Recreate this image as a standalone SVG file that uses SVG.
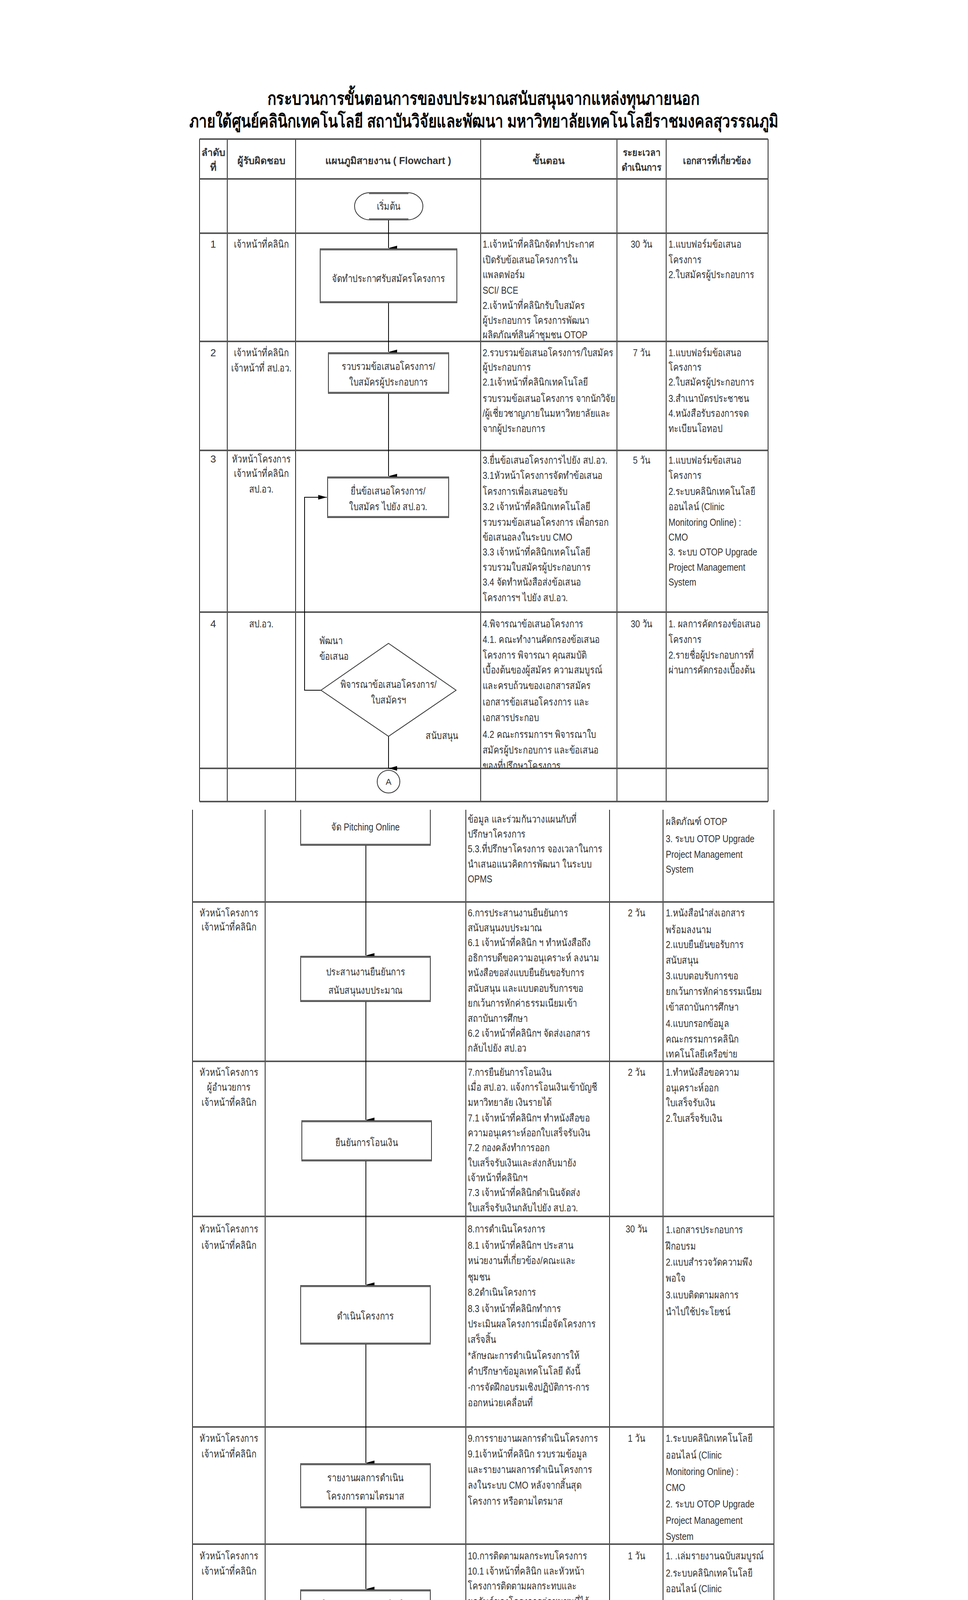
<svg xmlns="http://www.w3.org/2000/svg" width="2479" height="4736" viewBox="0 0 2479 4736">
<style>
.t{font-family:"Liberation Sans","DejaVu Sans",sans-serif;font-size:26px;fill:#333}
.c{text-anchor:middle}
.hd{font-weight:bold;font-size:25px}
.title{font-family:"Liberation Sans","DejaVu Sans",sans-serif;font-size:46px;font-weight:bold;fill:#000;text-anchor:middle}
.v{stroke:#222;stroke-width:2;fill:none}
.hz{stroke:#555;stroke-width:4;fill:none}
.box{fill:#fff;stroke:#333;stroke-width:2}
.be{stroke:#666;stroke-width:4;fill:none}
.cn{stroke:#000;stroke-width:2;fill:none}
</style>
<defs>
<marker id="ah" viewBox="0 0 12 22" refX="6" refY="22" markerWidth="12" markerHeight="22" orient="auto-start-reverse" markerUnits="userSpaceOnUse">
<path d="M0,0 L6,22 L12,0 z" fill="#000"/>
</marker>
<marker id="ar" viewBox="0 0 22 12" refX="22" refY="6" markerWidth="22" markerHeight="12" orient="auto" markerUnits="userSpaceOnUse">
<path d="M0,0 L22,6 L0,12 z" fill="#000"/>
</marker>
<clipPath id="clip4"><rect x="0" y="1567" width="2479" height="399"/></clipPath>
</defs>
<rect width="2479" height="4736" fill="#fff"/>

<g id="title">
<text class="title" x="1238" y="268" textLength="1107" lengthAdjust="spacingAndGlyphs">กระบวนการขั้นตอนการของบประมาณสนับสนุนจากแหล่งทุนภายนอก</text>
<text class="title" x="1239" y="326" textLength="1508" lengthAdjust="spacingAndGlyphs">ภายใต้ศูนย์คลินิกเทคโนโลยี สถาบันวิจัยและพัฒนา มหาวิทยาลัยเทคโนโลยีราชมงคลสุวรรณภูมิ</text>
</g>

<g id="table-part1">
<path class="v" d="M511,356V2052 M582,356V2052 M757,356V2052 M1231,356V2052 M1580,356V2052 M1706,356V2052 M1967,356V2052"/>
<path class="hz" d="M511,356H1967 M511,458H1967 M511,597H1967 M511,874H1967 M511,1153H1967 M511,1567H1967 M511,1967H1967 M511,2052H1967"/>
<g id="header">
<text class="t hd c" x="546" y="399">ลำดับ</text>
<text class="t hd c" x="546" y="437">ที่</text>
<text class="t hd c" x="669" y="420">ผู้รับผิดชอบ</text>
<text class="t hd c" x="994" y="420">แผนภูมิสายงาน ( Flowchart )</text>
<text class="t hd c" x="1405" y="420">ขั้นตอน</text>
<text class="t hd c" x="1643" y="399" transform="matrix(0.9,0,0,1,164.3,0)">ระยะเวลา</text>
<text class="t hd c" x="1643" y="437" transform="matrix(0.9,0,0,1,164.3,0)">ดำเนินการ</text>
<text class="t hd c" x="1836" y="420" transform="matrix(0.9,0,0,1,183.6,0)">เอกสารที่เกี่ยวข้อง</text>
</g>
</g>

<g id="row1-text">
<text class="t c" x="546" y="634">1</text>
<text class="t c" x="669" y="634" transform="matrix(0.82,0,0,1,120.42,0)">เจ้าหน้าที่คลินิก</text>
<text class="t" x="1236" transform="matrix(0.82,0,0,1,222.48,0)"><tspan x="1236" y="634">1.เจ้าหน้าที่คลินิกจัดทำประกาศ</tspan><tspan x="1236" y="674">เปิดรับข้อเสนอโครงการใน</tspan><tspan x="1236" y="712">แพลตฟอร์ม</tspan><tspan x="1236" y="752">SCI/ BCE</tspan><tspan x="1236" y="791">2.เจ้าหน้าที่คลินิกรับใบสมัคร</tspan><tspan x="1236" y="829">ผู้ประกอบการ โครงการพัฒนา</tspan><tspan x="1236" y="866">ผลิตภัณฑ์สินค้าชุมชน OTOP</tspan></text>
<text class="t c" x="1643" y="634" transform="matrix(0.82,0,0,1,295.74,0)">30 วัน</text>
<text class="t" x="1712" transform="matrix(0.82,0,0,1,308.16,0)"><tspan x="1712" y="634">1.แบบฟอร์มข้อเสนอ</tspan><tspan x="1712" y="674">โครงการ</tspan><tspan x="1712" y="712">2.ใบสมัครผู้ประกอบการ</tspan></text>
</g>

<g id="row2-text">
<text class="t c" x="546" y="912">2</text>
<text class="t c" x="669" transform="matrix(0.82,0,0,1,120.42,0)"><tspan x="669" y="912">เจ้าหน้าที่คลินิก</tspan><tspan x="669" y="951">เจ้าหน้าที่ สป.อว.</tspan></text>
<text class="t" x="1236" transform="matrix(0.82,0,0,1,222.48,0)"><tspan x="1236" y="912">2.รวบรวมข้อเสนอโครงการ/ใบสมัคร</tspan><tspan x="1236" y="949">ผู้ประกอบการ</tspan><tspan x="1236" y="987">2.1เจ้าหน้าที่คลินิกเทคโนโลยี</tspan><tspan x="1236" y="1029">รวบรวมข้อเสนอโครงการ จากนักวิจัย</tspan><tspan x="1236" y="1067">/ผู้เชี่ยวชาญภายในมหาวิทยาลัยและ</tspan><tspan x="1236" y="1106">จากผู้ประกอบการ</tspan></text>
<text class="t c" x="1643" y="912" transform="matrix(0.82,0,0,1,295.74,0)">7 วัน</text>
<text class="t" x="1712" transform="matrix(0.82,0,0,1,308.16,0)"><tspan x="1712" y="912">1.แบบฟอร์มข้อเสนอ</tspan><tspan x="1712" y="949">โครงการ</tspan><tspan x="1712" y="987">2.ใบสมัครผู้ประกอบการ</tspan><tspan x="1712" y="1029">3.สำเนาบัตรประชาชน</tspan><tspan x="1712" y="1067">4.หนังสือรับรองการจด</tspan><tspan x="1712" y="1106">ทะเบียนโอทอป</tspan></text>
</g>

<g id="row3-text">
<text class="t c" x="546" y="1184">3</text>
<text class="t c" x="669" transform="matrix(0.82,0,0,1,120.42,0)"><tspan x="669" y="1184">หัวหน้าโครงการ</tspan><tspan x="669" y="1221">เจ้าหน้าที่คลินิก</tspan><tspan x="669" y="1261">สป.อว.</tspan></text>
<text class="t" x="1236" transform="matrix(0.82,0,0,1,222.48,0)"><tspan x="1236" y="1187">3.ยื่นข้อเสนอโครงการไปยัง สป.อว.</tspan><tspan x="1236" y="1226">3.1หัวหน้าโครงการจัดทำข้อเสนอ</tspan><tspan x="1236" y="1267">โครงการเพื่อเสนอขอรับ</tspan><tspan x="1236" y="1306">3.2 เจ้าหน้าที่คลินิกเทคโนโลยี</tspan><tspan x="1236" y="1346">รวบรวมข้อเสนอโครงการ เพื่อกรอก</tspan><tspan x="1236" y="1384">ข้อเสนอลงในระบบ CMO</tspan><tspan x="1236" y="1422">3.3  เจ้าหน้าที่คลินิกเทคโนโลยี</tspan><tspan x="1236" y="1461">รวบรวมใบสมัครผู้ประกอบการ</tspan><tspan x="1236" y="1499">3.4 จัดทำหนังสือส่งข้อเสนอ</tspan><tspan x="1236" y="1539">โครงการฯ ไปยัง สป.อว.</tspan></text>
<text class="t c" x="1643" y="1187" transform="matrix(0.82,0,0,1,295.74,0)">5 วัน</text>
<text class="t" x="1712" transform="matrix(0.82,0,0,1,308.16,0)"><tspan x="1712" y="1187">1.แบบฟอร์มข้อเสนอ</tspan><tspan x="1712" y="1226">โครงการ</tspan><tspan x="1712" y="1267">2.ระบบคลินิกเทคโนโลยี</tspan><tspan x="1712" y="1306">ออนไลน์ (Clinic</tspan><tspan x="1712" y="1346">Monitoring Online) :</tspan><tspan x="1712" y="1384">CMO</tspan><tspan x="1712" y="1422">3. ระบบ OTOP Upgrade</tspan><tspan x="1712" y="1461">Project Management</tspan><tspan x="1712" y="1499">System</tspan></text>
</g>

<g id="row4-text">
<text class="t c" x="546" y="1606">4</text>
<text class="t c" x="669" y="1606" transform="matrix(0.82,0,0,1,120.42,0)">สป.อว.</text>
<g clip-path="url(#clip4)">
<text class="t" x="1236" transform="matrix(0.82,0,0,1,222.48,0)"><tspan x="1236" y="1606">4.พิจารณาข้อเสนอโครงการ</tspan><tspan x="1236" y="1646">4.1. คณะทำงานคัดกรองข้อเสนอ</tspan><tspan x="1236" y="1686">โครงการ  พิจารณา คุณสมบัติ</tspan><tspan x="1236" y="1724">เบื้องต้นของผู้สมัคร ความสมบูรณ์</tspan><tspan x="1236" y="1764">และครบถ้วนของเอกสารสมัคร</tspan><tspan x="1236" y="1806">เอกสารข้อเสนอโครงการ และ</tspan><tspan x="1236" y="1846">เอกสารประกอบ</tspan><tspan x="1236" y="1889">4.2 คณะกรรมการฯ พิจารณาใบ</tspan><tspan x="1236" y="1929">สมัครผู้ประกอบการ และข้อเสนอ</tspan><tspan x="1236" y="1969">ของที่ปรึกษาโครงการ</tspan></text>
</g>
<text class="t c" x="1643" y="1606" transform="matrix(0.82,0,0,1,295.74,0)">30 วัน</text>
<text class="t" x="1712" transform="matrix(0.82,0,0,1,308.16,0)"><tspan x="1712" y="1606">1. ผลการคัดกรองข้อเสนอ</tspan><tspan x="1712" y="1646">โครงการ</tspan><tspan x="1712" y="1686">2.รายชื่อผู้ประกอบการที่</tspan><tspan x="1712" y="1724">ผ่านการคัดกรองเบื้องต้น</tspan></text>
</g>

<g id="table-part2">
<path class="v" d="M493,2073V4723 M679,2073V4723 M1193,2073V4723 M1561,2073V4723 M1698,2073V4723 M1982,2073V4723"/>
<path class="hz" d="M493,2309H1982 M493,2717H1982 M493,3114H1982 M493,3653H1982 M493,3953H1982 M493,4348H1982 M493,4587H1982 M493,4723H1982"/>
</g>

<g id="row5-text">
<text class="t" x="1198" transform="matrix(0.82,0,0,1,215.64,0)"><tspan x="1198" y="2106">ข้อมูล และร่วมกันวางแผนกับที่</tspan><tspan x="1198" y="2144">ปรึกษาโครงการ</tspan><tspan x="1198" y="2182">5.3.ที่ปรึกษาโครงการ จองเวลาในการ</tspan><tspan x="1198" y="2221">นำเสนอแนวคิดการพัฒนา ในระบบ</tspan><tspan x="1198" y="2259">OPMS</tspan></text>
<text class="t" x="1705" transform="matrix(0.82,0,0,1,306.9,0)"><tspan x="1705" y="2112">ผลิตภัณฑ์ OTOP</tspan><tspan x="1705" y="2156">3. ระบบ OTOP Upgrade</tspan><tspan x="1705" y="2196">Project Management</tspan><tspan x="1705" y="2234">System</tspan></text>
</g>

<g id="row6-text">
<text class="t c" x="586" transform="matrix(0.82,0,0,1,105.48,0)"><tspan x="586" y="2346">หัวหน้าโครงการ</tspan><tspan x="586" y="2382">เจ้าหน้าที่คลินิก</tspan></text>
<text class="t" x="1198" transform="matrix(0.82,0,0,1,215.64,0)"><tspan x="1198" y="2346">6.การประสานงานยืนยันการ</tspan><tspan x="1198" y="2384">สนับสนุนงบประมาณ</tspan><tspan x="1198" y="2422">6.1 เจ้าหน้าที่คลินิก ฯ ทำหนังสือถึง</tspan><tspan x="1198" y="2461">อธิการบดีขอความอนุเคราะห์ ลงนาม</tspan><tspan x="1198" y="2499">หนังสือขอส่งแบบยืนยันขอรับการ</tspan><tspan x="1198" y="2539">สนับสนุน และแบบตอบรับการขอ</tspan><tspan x="1198" y="2577">ยกเว้นการหักค่าธรรมเนียมเข้า</tspan><tspan x="1198" y="2616">สถาบันการศึกษา</tspan><tspan x="1198" y="2654">6.2 เจ้าหน้าที่คลินิกฯ จัดส่งเอกสาร</tspan><tspan x="1198" y="2692">กลับไปยัง สป.อว</tspan></text>
<text class="t c" x="1630" y="2346" transform="matrix(0.82,0,0,1,293.4,0)">2 วัน</text>
<text class="t" x="1705" transform="matrix(0.82,0,0,1,306.9,0)"><tspan x="1705" y="2346">1.หนังสือนำส่งเอกสาร</tspan><tspan x="1705" y="2389">พร้อมลงนาม</tspan><tspan x="1705" y="2427">2.แบบยืนยันขอรับการ</tspan><tspan x="1705" y="2467">สนับสนุน</tspan><tspan x="1705" y="2507">3.แบบตอบรับการขอ</tspan><tspan x="1705" y="2547">ยกเว้นการหักค่าธรรมเนียม</tspan><tspan x="1705" y="2587">เข้าสถาบันการศึกษา</tspan><tspan x="1705" y="2629">4.แบบกรอกข้อมูล</tspan><tspan x="1705" y="2669">คณะกรรมการคลินิก</tspan><tspan x="1705" y="2707">เทคโนโลยีเครือข่าย</tspan></text>
</g>

<g id="row7-text">
<text class="t c" x="586" transform="matrix(0.82,0,0,1,105.48,0)"><tspan x="586" y="2754">หัวหน้าโครงการ</tspan><tspan x="586" y="2792">ผู้อำนวยการ</tspan><tspan x="586" y="2831">เจ้าหน้าที่คลินิก</tspan></text>
<text class="t" x="1198" transform="matrix(0.82,0,0,1,215.64,0)"><tspan x="1198" y="2754">7.การยืนยันการโอนเงิน</tspan><tspan x="1198" y="2792">เมื่อ สป.อว. แจ้งการโอนเงินเข้าบัญชี</tspan><tspan x="1198" y="2831">มหาวิทยาลัย เงินรายได้</tspan><tspan x="1198" y="2871">7.1 เจ้าหน้าที่คลินิกฯ ทำหนังสือขอ</tspan><tspan x="1198" y="2909">ความอนุเคราะห์ออกใบเสร็จรับเงิน</tspan><tspan x="1198" y="2947">7.2 กองคลังทำการออก</tspan><tspan x="1198" y="2986">ใบเสร็จรับเงินและส่งกลับมายัง</tspan><tspan x="1198" y="3024">เจ้าหน้าที่คลินิกฯ</tspan><tspan x="1198" y="3062">7.3 เจ้าหน้าที่คลินิกดำเนินจัดส่ง</tspan><tspan x="1198" y="3101">ใบเสร็จรับเงินกลับไปยัง สป.อว.</tspan></text>
<text class="t c" x="1630" y="2754" transform="matrix(0.82,0,0,1,293.4,0)">2 วัน</text>
<text class="t" x="1705" transform="matrix(0.82,0,0,1,306.9,0)"><tspan x="1705" y="2754">1.ทำหนังสือขอความ</tspan><tspan x="1705" y="2794">อนุเคราะห์ออก</tspan><tspan x="1705" y="2832">ใบเสร็จรับเงิน</tspan><tspan x="1705" y="2872">2.ใบเสร็จรับเงิน</tspan></text>
</g>

<g id="row8-text">
<text class="t c" x="586" transform="matrix(0.82,0,0,1,105.48,0)"><tspan x="586" y="3155">หัวหน้าโครงการ</tspan><tspan x="586" y="3197">เจ้าหน้าที่คลินิก</tspan></text>
<text class="t" x="1198" transform="matrix(0.82,0,0,1,215.64,0)"><tspan x="1198" y="3155">8.การดำเนินโครงการ</tspan><tspan x="1198" y="3197">8.1 เจ้าหน้าที่คลินิกฯ ประสาน</tspan><tspan x="1198" y="3236">หน่วยงานที่เกี่ยวข้อง/คณะและ</tspan><tspan x="1198" y="3278">ชุมชน</tspan><tspan x="1198" y="3317">8.2ดำเนินโครงการ</tspan><tspan x="1198" y="3359">8.3 เจ้าหน้าที่คลินิกทำการ</tspan><tspan x="1198" y="3398">ประเมินผลโครงการเมื่อจัดโครงการ</tspan><tspan x="1198" y="3438">เสร็จสิ้น</tspan><tspan x="1198" y="3479">*ลักษณะการดำเนินโครงการให้</tspan><tspan x="1198" y="3519">คำปรึกษาข้อมูลเทคโนโลยี ดังนี้</tspan><tspan x="1198" y="3560">-การจัดฝึกอบรมเชิงปฏิบัติการ-การ</tspan><tspan x="1198" y="3600">ออกหน่วยเคลื่อนที่</tspan></text>
<text class="t c" x="1630" y="3155" transform="matrix(0.82,0,0,1,293.4,0)">30  วัน</text>
<text class="t" x="1705" transform="matrix(0.82,0,0,1,306.9,0)"><tspan x="1705" y="3157">1.เอกสารประกอบการ</tspan><tspan x="1705" y="3199">ฝึกอบรม</tspan><tspan x="1705" y="3240">2.แบบสำรวจวัดความพึง</tspan><tspan x="1705" y="3281">พอใจ</tspan><tspan x="1705" y="3324">3.แบบติดตามผลการ</tspan><tspan x="1705" y="3367">นำไปใช้ประโยชน์</tspan></text>
</g>

<g id="row9-text">
<text class="t c" x="586" transform="matrix(0.82,0,0,1,105.48,0)"><tspan x="586" y="3691">หัวหน้าโครงการ</tspan><tspan x="586" y="3731">เจ้าหน้าที่คลินิก</tspan></text>
<text class="t" x="1198" transform="matrix(0.82,0,0,1,215.64,0)"><tspan x="1198" y="3691">9.การรายงานผลการดำเนินโครงการ</tspan><tspan x="1198" y="3731">9.1เจ้าหน้าที่คลินิก รวบรวมข้อมูล</tspan><tspan x="1198" y="3771">และรายงานผลการดำเนินโครงการ</tspan><tspan x="1198" y="3811">ลงในระบบ CMO หลังจากสิ้นสุด</tspan><tspan x="1198" y="3852">โครงการ หรือตามไตรมาส</tspan></text>
<text class="t c" x="1630" y="3691" transform="matrix(0.82,0,0,1,293.4,0)">1  วัน</text>
<text class="t" x="1705" transform="matrix(0.82,0,0,1,306.9,0)"><tspan x="1705" y="3691">1.ระบบคลินิกเทคโนโลยี</tspan><tspan x="1705" y="3734">ออนไลน์ (Clinic</tspan><tspan x="1705" y="3776">Monitoring Online) :</tspan><tspan x="1705" y="3817">CMO</tspan><tspan x="1705" y="3859">2. ระบบ OTOP Upgrade</tspan><tspan x="1705" y="3901">Project Management</tspan><tspan x="1705" y="3942">System</tspan></text>
</g>

<g id="row10-text">
<text class="t c" x="586" transform="matrix(0.82,0,0,1,105.48,0)"><tspan x="586" y="3992">หัวหน้าโครงการ</tspan><tspan x="586" y="4031">เจ้าหน้าที่คลินิก</tspan></text>
<text class="t" x="1198" transform="matrix(0.82,0,0,1,215.64,0)"><tspan x="1198" y="3992">10.การติดตามผลกระทบโครงการ</tspan><tspan x="1198" y="4031">10.1 เจ้าหน้าที่คลินิก และหัวหน้า</tspan><tspan x="1198" y="4069">โครงการติดตามผลกระทบและ</tspan><tspan x="1198" y="4109">ผลลัพธ์ของโครงการต่อชุมชนที่ได้</tspan><tspan x="1198" y="4149">ดำเนินการไปแล้ว 1-3 เดือน</tspan><tspan x="1198" y="4191">10.2 ผู้ทรงคุณวุฒิ และคณะทำงาน</tspan><tspan x="1198" y="4231">จาก สป.อว. ดำเนินการติดตามผล</tspan><tspan x="1198" y="4272">การดำเนินโครงการในไตรมาสที่ 4</tspan></text>
<text class="t c" x="1630" y="3992" transform="matrix(0.82,0,0,1,293.4,0)">1 วัน</text>
<text class="t" x="1705" transform="matrix(0.82,0,0,1,306.9,0)"><tspan x="1705" y="3992">1. .เล่มรายงานฉบับสมบูรณ์</tspan><tspan x="1705" y="4036">2.ระบบคลินิกเทคโนโลยี</tspan><tspan x="1705" y="4076">ออนไลน์ (Clinic</tspan><tspan x="1705" y="4119">Monitoring Online) :</tspan><tspan x="1705" y="4159">CMO</tspan><tspan x="1705" y="4202">3. ระบบ OTOP Upgrade</tspan><tspan x="1705" y="4246">Project Management</tspan><tspan x="1705" y="4287">System</tspan><tspan x="1705" y="4329">4. หนังสือนำส่ง</tspan></text>
</g>

<g id="row11-text">
<text class="t c" x="586" y="4387" transform="matrix(0.82,0,0,1,105.48,0)">สป.อว.</text>
<text class="t" x="1198" transform="matrix(0.82,0,0,1,215.64,0)"><tspan x="1198" y="4387">11 ติดตามประเมินผลทางเศรษฐกิจ</tspan><tspan x="1198" y="4431">11.1 ผู้ทรงคุณวุฒิ และคณะทำงาน</tspan><tspan x="1198" y="4474">จาก สป.อว. ดำเนินการติดตามผล</tspan><tspan x="1198" y="4517">การดำเนินโครงการในไตรมาสที่ 4</tspan><tspan x="1198" y="4559">และหลังจากเสร็จสิ้นโครงการ</tspan></text>
<text class="t c" x="1630" y="4387" transform="matrix(0.82,0,0,1,293.4,0)">1 วัน</text>
<text class="t" x="1705" transform="matrix(0.82,0,0,1,306.9,0)"><tspan x="1705" y="4387">1. TEMPLATE การ</tspan><tspan x="1705" y="4431">นำเสนอผลการดำเนินงาน</tspan><tspan x="1705" y="4474">การพัฒนาผลิตภัณฑ์</tspan><tspan x="1705" y="4517">OTOP ด้วยวิทยาศาสตร์</tspan><tspan x="1705" y="4559">เทคโนโลยี และนวัตกรรม</tspan></text>
</g>

<g id="connectors">
<path class="cn" d="M995,563V635" marker-end="url(#ah)"/>
<path class="cn" d="M995,775V901" marker-end="url(#ah)"/>
<path class="cn" d="M995,1007V1219" marker-end="url(#ah)"/>
<path class="cn" d="M822,1767H780V1273H837" marker-end="url(#ar)"/>
<path class="cn" d="M995,1885V1967" marker-end="url(#ah)"/>
<path class="cn" d="M937,2164V2446" marker-end="url(#ah)"/>
<path class="cn" d="M937,2564V2867" marker-end="url(#ah)"/>
<path class="cn" d="M937,2972V3289" marker-end="url(#ah)"/>
<path class="cn" d="M937,3441V3745" marker-end="url(#ah)"/>
<path class="cn" d="M937,3860V4068" marker-end="url(#ah)"/>
<path class="cn" d="M938,4232V4422" marker-end="url(#ah)"/>
<path class="cn" d="M940,4507V4616" marker-end="url(#ah)"/>
<text class="t" x="818" transform="matrix(0.82,0,0,1,147.24,0)"><tspan x="818" y="1649">พัฒนา</tspan><tspan x="818" y="1689">ข้อเสนอ</tspan></text>
<text class="t c" x="1132" y="1892" transform="matrix(0.82,0,0,1,203.76,0)">สนับสนุน</text>
</g>

<g id="start">
<rect class="box" x="908" y="493" width="175" height="70" rx="40" ry="35"/>
<path class="be" d="M945,495H1046 M945,561H1046"/>
<text class="t c" x="995" y="537" transform="matrix(0.82,0,0,1,179.1,0)">เริ่มต้น</text>
</g>

<g id="n1">
<rect class="box" x="820" y="637" width="350" height="138"/>
<path class="be" d="M820,639H1170 M820,773H1170"/>
<text class="t c" x="995" y="722" transform="matrix(0.82,0,0,1,179.1,0)">จัดทำประกาศรับสมัครโครงการ</text>
</g>

<g id="n2">
<rect class="box" x="841" y="903" width="308" height="104"/>
<path class="be" d="M841,905H1149 M841,1005H1149"/>
<text class="t c" x="995" transform="matrix(0.82,0,0,1,179.1,0)"><tspan x="995" y="947">รวบรวมข้อเสนอโครงการ/</tspan><tspan x="995" y="987">ใบสมัครผู้ประกอบการ</tspan></text>
</g>

<g id="n3">
<rect class="box" x="839" y="1221" width="310" height="104"/>
<path class="be" d="M839,1223H1149 M839,1323H1149"/>
<text class="t c" x="994" transform="matrix(0.82,0,0,1,178.92,0)"><tspan x="994" y="1266">ยื่นข้อเสนอโครงการ/</tspan><tspan x="994" y="1306">ใบสมัคร ไปยัง สป.อว.</tspan></text>
</g>

<g id="decision">
<path class="box" d="M995,1647 L1168,1767 L995,1885 L822,1767 z"/>
<text class="t c" x="995" transform="matrix(0.82,0,0,1,179.1,0)"><tspan x="995" y="1761">พิจารณาข้อเสนอโครงการ/</tspan><tspan x="995" y="1801">ใบสมัครฯ</tspan></text>
</g>

<g id="connA">
<circle class="box" cx="995" cy="2001" r="29"/>
<text class="t c" x="995" y="2009" style="font-size:22px">A</text>
</g>

<g id="n5">
<path class="box" d="M770,2073V2164H1102V2073"/>
<path class="be" d="M770,2162H1102"/>
<text class="t c" x="936" y="2126" transform="matrix(0.82,0,0,1,168.48,0)">จัด Pitching Online</text>
</g>

<g id="n6">
<rect class="box" x="770" y="2448" width="332" height="116"/>
<path class="be" d="M770,2450H1102 M770,2562H1102"/>
<text class="t c" x="936" transform="matrix(0.82,0,0,1,168.48,0)"><tspan x="936" y="2497">ประสานงานยืนยันการ</tspan><tspan x="936" y="2544">สนับสนุนงบประมาณ</tspan></text>
</g>

<g id="n7">
<rect class="box" x="773" y="2869" width="332" height="103"/>
<path class="be" d="M773,2871H1105 M773,2970H1105"/>
<text class="t c" x="939" y="2934" transform="matrix(0.82,0,0,1,169.02,0)">ยืนยันการโอนเงิน</text>
</g>

<g id="n8">
<rect class="box" x="770" y="3291" width="332" height="150"/>
<path class="be" d="M770,3293H1102 M770,3439H1102"/>
<text class="t c" x="936" y="3378" transform="matrix(0.82,0,0,1,168.48,0)">ดำเนินโครงการ</text>
</g>

<g id="n9">
<rect class="box" x="770" y="3747" width="332" height="113"/>
<path class="be" d="M770,3749H1102 M770,3858H1102"/>
<text class="t c" x="936" transform="matrix(0.82,0,0,1,168.48,0)"><tspan x="936" y="3792">รายงานผลการดำเนิน</tspan><tspan x="936" y="3839">โครงการตามไตรมาส</tspan></text>
</g>

<g id="n10">
<rect class="box" x="770" y="4070" width="332" height="162"/>
<path class="be" d="M770,4072H1102 M770,4230H1102"/>
<text class="t c" x="936" transform="matrix(0.82,0,0,1,168.48,0)"><tspan x="936" y="4116">ติดตามสรุปผลการดำเนิน</tspan><tspan x="936" y="4164">โครงการ/จัดส่งเล่มรายงาน</tspan><tspan x="936" y="4212">ฉบับสมบูรณ์ในระบบ</tspan></text>
</g>

<g id="n11">
<rect class="box" x="775" y="4424" width="330" height="83"/>
<path class="be" d="M775,4426H1105 M775,4505H1105"/>
<text class="t c" x="940" transform="matrix(0.82,0,0,1,169.2,0)"><tspan x="940" y="4456">ติดตามประเมินผล</tspan><tspan x="940" y="4502">ทางเศรษฐกิจ</tspan></text>
</g>

<g id="end">
<rect class="box" x="847" y="4618" width="186" height="74" rx="42" ry="37"/>
<path class="be" d="M889,4620H991 M889,4690H991"/>
<text class="t c" x="941" y="4669" transform="matrix(0.82,0,0,1,169.38,0)">จบ</text>
</g>
</svg>
